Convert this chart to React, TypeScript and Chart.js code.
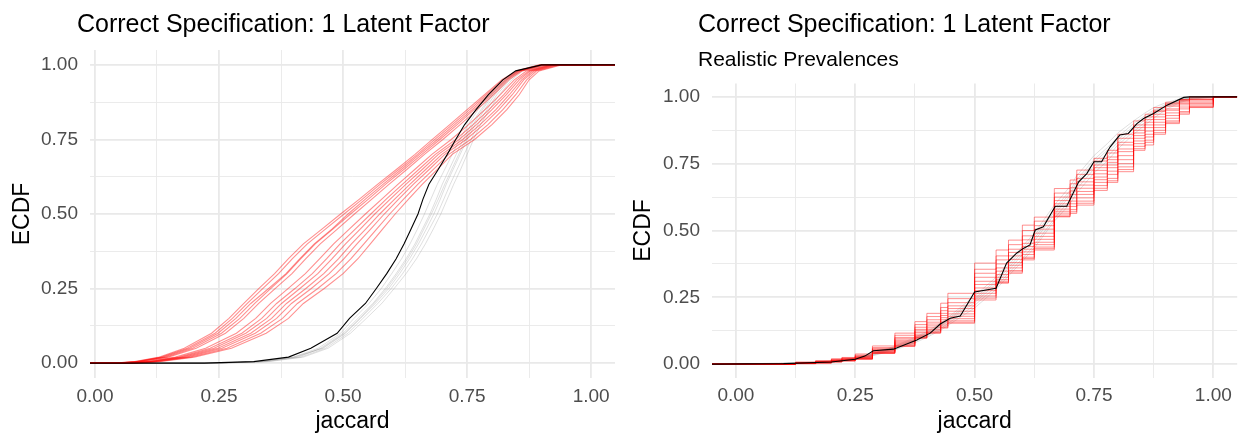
import React, { useEffect, useRef } from 'react';
import { Chart, registerables } from 'chart.js';

Chart.register(...registerables);

const FONT = '"Liberation Sans", Arial, Helvetica, sans-serif';

// ---------- shared axis data ----------
const majorTicks = [0, 0.25, 0.5, 0.75, 1];
const minorTicks = [0.125, 0.375, 0.625, 0.875];
const tickLabels = ['0.00', '0.25', '0.50', '0.75', '1.00'];
const yRange = [-0.05, 1.05];
const xTitle = 'jaccard';
const yTitle = 'ECDF';

// ---------- left panel ----------
const leftTitle = 'Correct Specification: 1 Latent Factor';
const leftXRange = [-0.01, 1.048];
// ECDF levels at which each left-panel curve's jaccard quantile is read
const ecdfLevels = [0, 0.005, 0.02, 0.05, 0.1, 0.15, 0.2, 0.25, 0.3, 0.35, 0.4, 0.45, 0.5, 0.55, 0.6, 0.65, 0.7, 0.75, 0.8, 0.85, 0.9, 0.95, 0.98, 1];

const leftBlack = [0.22, 0.32, 0.39, 0.435, 0.488, 0.513, 0.545, 0.567, 0.588, 0.607, 0.623, 0.637, 0.651, 0.661, 0.673, 0.692, 0.71, 0.727, 0.745, 0.768, 0.793, 0.822, 0.848, 0.9];

const leftGray1 = [0.24, 0.33, 0.4, 0.45, 0.495, 0.522, 0.552, 0.577, 0.598, 0.618, 0.635, 0.65, 0.664, 0.677, 0.69, 0.705, 0.72, 0.735, 0.752, 0.772, 0.797, 0.826, 0.85, 0.9];
const leftGray2 = [0.25, 0.34, 0.41, 0.455, 0.5, 0.53, 0.56, 0.585, 0.607, 0.627, 0.645, 0.66, 0.675, 0.688, 0.7, 0.714, 0.728, 0.742, 0.758, 0.778, 0.8, 0.828, 0.852, 0.91];
const leftGray3 = [0.23, 0.335, 0.4, 0.46, 0.505, 0.535, 0.565, 0.592, 0.614, 0.634, 0.652, 0.668, 0.683, 0.696, 0.708, 0.722, 0.736, 0.75, 0.766, 0.785, 0.806, 0.832, 0.855, 0.9];
const leftGray4 = [0.26, 0.345, 0.415, 0.465, 0.51, 0.54, 0.57, 0.597, 0.62, 0.64, 0.658, 0.674, 0.69, 0.703, 0.716, 0.73, 0.744, 0.758, 0.772, 0.79, 0.81, 0.836, 0.858, 0.91];
const leftGray5 = [0.25, 0.35, 0.42, 0.47, 0.515, 0.547, 0.578, 0.603, 0.627, 0.648, 0.666, 0.682, 0.697, 0.71, 0.723, 0.737, 0.75, 0.763, 0.777, 0.795, 0.815, 0.84, 0.862, 0.92];
const leftGray6 = [0.24, 0.33, 0.405, 0.458, 0.503, 0.534, 0.562, 0.588, 0.61, 0.63, 0.648, 0.663, 0.678, 0.692, 0.705, 0.719, 0.733, 0.747, 0.762, 0.781, 0.802, 0.83, 0.853, 0.905];

const leftRed1 = [0.04, 0.08, 0.13, 0.18, 0.235, 0.27, 0.3, 0.33, 0.362, 0.39, 0.42, 0.458, 0.495, 0.533, 0.57, 0.608, 0.645, 0.68, 0.715, 0.75, 0.785, 0.82, 0.85, 0.895];
const leftRed2 = [0.042, 0.083, 0.134, 0.186, 0.242, 0.277, 0.307, 0.338, 0.37, 0.398, 0.428, 0.465, 0.502, 0.539, 0.575, 0.613, 0.65, 0.685, 0.72, 0.755, 0.789, 0.823, 0.853, 0.898];
const leftRed3 = [0.045, 0.086, 0.138, 0.191, 0.248, 0.284, 0.314, 0.35, 0.385, 0.413, 0.442, 0.478, 0.51, 0.545, 0.581, 0.618, 0.654, 0.69, 0.725, 0.76, 0.793, 0.827, 0.855, 0.9];
const leftRed4 = [0.047, 0.089, 0.143, 0.197, 0.255, 0.292, 0.322, 0.354, 0.387, 0.415, 0.444, 0.48, 0.515, 0.551, 0.586, 0.623, 0.659, 0.695, 0.73, 0.764, 0.798, 0.83, 0.858, 0.903];
const leftRed5 = [0.05, 0.093, 0.148, 0.204, 0.263, 0.3, 0.33, 0.363, 0.397, 0.425, 0.454, 0.489, 0.523, 0.558, 0.593, 0.629, 0.664, 0.701, 0.736, 0.77, 0.803, 0.834, 0.861, 0.906];
const leftRed6 = [0.058, 0.103, 0.162, 0.223, 0.285, 0.324, 0.354, 0.389, 0.424, 0.453, 0.481, 0.513, 0.545, 0.578, 0.611, 0.645, 0.679, 0.718, 0.753, 0.786, 0.817, 0.845, 0.87, 0.915];
const leftRed7 = [0.062, 0.108, 0.169, 0.232, 0.296, 0.336, 0.366, 0.403, 0.438, 0.467, 0.494, 0.525, 0.556, 0.587, 0.62, 0.653, 0.686, 0.727, 0.762, 0.794, 0.824, 0.85, 0.875, 0.92];
const leftRed8 = [0.065, 0.112, 0.174, 0.24, 0.304, 0.346, 0.376, 0.413, 0.449, 0.478, 0.505, 0.535, 0.564, 0.595, 0.627, 0.66, 0.692, 0.734, 0.769, 0.8, 0.829, 0.855, 0.878, 0.923];
const leftRed9 = [0.069, 0.116, 0.18, 0.248, 0.314, 0.356, 0.386, 0.425, 0.461, 0.491, 0.517, 0.546, 0.574, 0.604, 0.635, 0.667, 0.699, 0.741, 0.776, 0.808, 0.835, 0.86, 0.882, 0.927];
const leftRed10 = [0.072, 0.12, 0.186, 0.256, 0.323, 0.366, 0.396, 0.436, 0.472, 0.502, 0.528, 0.556, 0.583, 0.612, 0.642, 0.674, 0.705, 0.748, 0.783, 0.814, 0.841, 0.864, 0.886, 0.931];
const leftRed11 = [0.076, 0.125, 0.193, 0.266, 0.334, 0.378, 0.408, 0.449, 0.486, 0.516, 0.542, 0.568, 0.594, 0.622, 0.651, 0.682, 0.713, 0.757, 0.792, 0.822, 0.848, 0.87, 0.89, 0.936];
const leftRed12 = [0.08, 0.13, 0.2, 0.275, 0.345, 0.39, 0.42, 0.462, 0.5, 0.53, 0.555, 0.58, 0.605, 0.632, 0.66, 0.69, 0.72, 0.765, 0.8, 0.83, 0.855, 0.875, 0.895, 0.94];

const leftGray = [leftGray1, leftGray2, leftGray3, leftGray4, leftGray5, leftGray6];
const leftRed = [leftRed1, leftRed2, leftRed3, leftRed4, leftRed5, leftRed6, leftRed7, leftRed8, leftRed9, leftRed10, leftRed11, leftRed12];

// ---------- right panel ----------
const rightTitle = 'Correct Specification: 1 Latent Factor';
const rightSubtitle = 'Realistic Prevalences';
const rightXRange = [-0.05, 1.05];
// discrete jaccard values where the right-panel ECDFs jump
const rightJaccard = [0.125, 0.167, 0.2, 0.222, 0.25, 0.286, 0.333, 0.375, 0.4, 0.429, 0.444, 0.5, 0.545, 0.571, 0.6, 0.625, 0.667, 0.7, 0.714, 0.75, 0.778, 0.8, 0.833, 0.857, 0.875, 0.9, 0.929, 0.95, 1.0];

const rightBlackX = [0.1, 0.2, 0.25, 0.27, 0.288, 0.33, 0.379, 0.407, 0.428, 0.449, 0.47, 0.5, 0.545, 0.567, 0.588, 0.602, 0.616, 0.627, 0.644, 0.669, 0.693, 0.718, 0.735, 0.75, 0.766, 0.784, 0.804, 0.822, 0.84, 0.854, 0.875, 0.903, 0.938, 0.95];
const rightBlackY = [0.002, 0.008, 0.018, 0.03, 0.05, 0.056, 0.09, 0.116, 0.15, 0.172, 0.18, 0.27, 0.284, 0.378, 0.415, 0.433, 0.446, 0.502, 0.514, 0.591, 0.591, 0.682, 0.713, 0.757, 0.757, 0.813, 0.857, 0.863, 0.9, 0.919, 0.938, 0.969, 0.998, 1.0];

const rightGray1 = [0.003, 0.006, 0.01, 0.014, 0.02, 0.035, 0.06, 0.09, 0.11, 0.14, 0.16, 0.23, 0.3, 0.35, 0.41, 0.46, 0.56, 0.63, 0.67, 0.74, 0.79, 0.83, 0.88, 0.915, 0.94, 0.965, 0.985, 0.995, 1.0];
const rightGray2 = [0.004, 0.007, 0.011, 0.015, 0.022, 0.038, 0.065, 0.095, 0.118, 0.148, 0.168, 0.245, 0.315, 0.37, 0.43, 0.48, 0.58, 0.65, 0.69, 0.765, 0.81, 0.85, 0.9, 0.93, 0.95, 0.972, 0.99, 0.997, 1.0];
const rightGray3 = [0.003, 0.005, 0.009, 0.013, 0.019, 0.033, 0.056, 0.085, 0.105, 0.133, 0.152, 0.22, 0.29, 0.34, 0.395, 0.445, 0.545, 0.615, 0.655, 0.73, 0.775, 0.82, 0.87, 0.905, 0.93, 0.96, 0.982, 0.994, 1.0];
const rightGray4 = [0.004, 0.008, 0.012, 0.016, 0.023, 0.04, 0.068, 0.1, 0.122, 0.153, 0.174, 0.255, 0.325, 0.38, 0.44, 0.49, 0.595, 0.665, 0.705, 0.78, 0.825, 0.865, 0.91, 0.94, 0.96, 0.978, 0.992, 0.998, 1.0];
const rightGray5 = [0.002, 0.005, 0.008, 0.012, 0.018, 0.031, 0.053, 0.08, 0.1, 0.127, 0.145, 0.21, 0.28, 0.33, 0.385, 0.435, 0.535, 0.6, 0.64, 0.715, 0.76, 0.805, 0.86, 0.895, 0.92, 0.952, 0.978, 0.99, 1.0];
const rightGray6 = [0.003, 0.006, 0.01, 0.014, 0.021, 0.036, 0.062, 0.092, 0.114, 0.144, 0.164, 0.238, 0.308, 0.36, 0.42, 0.47, 0.57, 0.64, 0.68, 0.755, 0.8, 0.84, 0.89, 0.922, 0.945, 0.968, 0.988, 0.996, 1.0];

const rightRed1 = [0.008, 0.013, 0.02, 0.025, 0.038, 0.068, 0.116, 0.159, 0.19, 0.228, 0.265, 0.378, 0.427, 0.464, 0.52, 0.55, 0.657, 0.689, 0.726, 0.77, 0.8, 0.86, 0.91, 0.935, 0.96, 0.98, 0.99, 1.0, 1.0];
const rightRed2 = [0.006, 0.011, 0.018, 0.023, 0.034, 0.062, 0.108, 0.148, 0.178, 0.212, 0.245, 0.355, 0.405, 0.447, 0.5, 0.535, 0.64, 0.675, 0.71, 0.76, 0.79, 0.845, 0.895, 0.925, 0.95, 0.975, 0.99, 1.0, 1.0];
const rightRed3 = [0.005, 0.01, 0.016, 0.021, 0.031, 0.058, 0.1, 0.138, 0.166, 0.2, 0.23, 0.34, 0.39, 0.43, 0.48, 0.518, 0.625, 0.66, 0.695, 0.745, 0.775, 0.83, 0.885, 0.915, 0.945, 0.97, 0.985, 0.995, 1.0];
const rightRed4 = [0.005, 0.009, 0.015, 0.02, 0.029, 0.055, 0.095, 0.13, 0.157, 0.19, 0.218, 0.325, 0.375, 0.418, 0.465, 0.505, 0.612, 0.648, 0.682, 0.735, 0.765, 0.82, 0.875, 0.905, 0.935, 0.965, 0.985, 0.99, 1.0];
const rightRed5 = [0.004, 0.008, 0.014, 0.018, 0.027, 0.052, 0.09, 0.124, 0.15, 0.182, 0.208, 0.31, 0.36, 0.405, 0.452, 0.49, 0.6, 0.635, 0.67, 0.725, 0.755, 0.805, 0.865, 0.895, 0.925, 0.955, 0.98, 0.99, 1.0];
const rightRed6 = [0.004, 0.008, 0.013, 0.017, 0.025, 0.05, 0.086, 0.118, 0.143, 0.174, 0.198, 0.298, 0.348, 0.392, 0.44, 0.478, 0.59, 0.622, 0.658, 0.712, 0.745, 0.795, 0.855, 0.885, 0.915, 0.95, 0.975, 0.985, 1.0];
const rightRed7 = [0.003, 0.007, 0.012, 0.016, 0.024, 0.047, 0.082, 0.112, 0.136, 0.166, 0.188, 0.285, 0.335, 0.38, 0.43, 0.467, 0.58, 0.61, 0.646, 0.7, 0.735, 0.78, 0.845, 0.872, 0.905, 0.94, 0.97, 0.98, 1.0];
const rightRed8 = [0.003, 0.006, 0.011, 0.015, 0.022, 0.045, 0.078, 0.107, 0.13, 0.158, 0.179, 0.275, 0.325, 0.37, 0.42, 0.456, 0.572, 0.6, 0.635, 0.69, 0.722, 0.765, 0.835, 0.86, 0.895, 0.93, 0.962, 0.975, 1.0];
const rightRed9 = [0.003, 0.006, 0.01, 0.014, 0.021, 0.043, 0.074, 0.103, 0.124, 0.15, 0.17, 0.265, 0.316, 0.36, 0.41, 0.447, 0.565, 0.59, 0.622, 0.68, 0.71, 0.75, 0.825, 0.85, 0.885, 0.92, 0.955, 0.97, 1.0];
const rightRed10 = [0.002, 0.005, 0.009, 0.013, 0.02, 0.042, 0.07, 0.1, 0.12, 0.143, 0.162, 0.255, 0.31, 0.35, 0.4, 0.438, 0.558, 0.578, 0.61, 0.668, 0.695, 0.738, 0.815, 0.838, 0.875, 0.91, 0.945, 0.965, 1.0];
const rightRed11 = [0.002, 0.004, 0.008, 0.012, 0.019, 0.041, 0.068, 0.098, 0.117, 0.138, 0.157, 0.247, 0.305, 0.345, 0.395, 0.432, 0.553, 0.57, 0.602, 0.658, 0.686, 0.728, 0.806, 0.83, 0.866, 0.905, 0.94, 0.962, 1.0];
const rightRed12 = [0.002, 0.004, 0.008, 0.012, 0.018, 0.04, 0.066, 0.097, 0.116, 0.135, 0.153, 0.24, 0.303, 0.34, 0.39, 0.427, 0.551, 0.564, 0.595, 0.65, 0.68, 0.72, 0.8, 0.82, 0.86, 0.9, 0.935, 0.96, 1.0];

const rightGray = [rightGray1, rightGray2, rightGray3, rightGray4, rightGray5, rightGray6];
const rightRed = [rightRed1, rightRed2, rightRed3, rightRed4, rightRed5, rightRed6, rightRed7, rightRed8, rightRed9, rightRed10, rightRed11, rightRed12];

// ---------- styles ----------
const RED = 'rgba(255,0,0,0.44)';
const GRAY = 'rgba(150,150,150,0.3)';
const BLACK = '#000000';
const GRID = '#e9e9e9';
const TICK_COLOR = '#4d4d4d';

type Pt = { x: number; y: number };

function fromQuantiles(q: number[], xr: number[]): Pt[] {
  const pts: Pt[] = [{ x: xr[0], y: 0 }];
  q.forEach((x, i) => pts.push({ x, y: ecdfLevels[i] }));
  pts.push({ x: xr[1], y: 1 });
  return pts;
}

function fromPairs(xs: number[], ys: number[], xr: number[]): Pt[] {
  const pts: Pt[] = [{ x: xr[0], y: 0 }];
  const n = Math.min(xs.length, ys.length);
  for (let i = 0; i < n; i++) pts.push({ x: xs[i], y: ys[i] });
  pts.push({ x: xr[1], y: 1 });
  return pts;
}

function ds(data: Pt[], color: string, width: number, order: number, stepped: boolean) {
  return {
    data,
    borderColor: color,
    backgroundColor: color,
    borderWidth: width,
    pointRadius: 0,
    pointHoverRadius: 0,
    fill: false,
    tension: 0,
    stepped: stepped ? ('before' as const) : false,
    order,
  };
}

const allTicks = [...majorTicks, ...minorTicks].sort((a, b) => a - b);

function tickLabel(v: number) {
  const i = majorTicks.findIndex((m) => Math.abs(m - v) < 1e-9);
  return i >= 0 ? tickLabels[i] : '';
}

function gridWidth(ctx: any) {
  const v = ctx.tick ? ctx.tick.value : 0;
  return majorTicks.some((m) => Math.abs(m - v) < 1e-9) ? 1.8 : 0.9;
}

function makeScales(xr: number[], yAxisWidth: number, xAxisHeight: number, xTickPad: number, yTitlePad: number) {
  return {
    x: {
      type: 'linear' as const,
      min: xr[0],
      max: xr[1],
      afterBuildTicks: (s: any) => {
        s.ticks = allTicks.map((v) => ({ value: v }));
      },
      afterFit: (s: any) => {
        s.height = xAxisHeight;
      },
      ticks: {
        autoSkip: false,
        maxRotation: 0,
        padding: xTickPad,
        color: TICK_COLOR,
        font: { size: 19, family: FONT },
        callback: (v: any) => tickLabel(Number(v)),
      },
      grid: { color: GRID, lineWidth: gridWidth, drawTicks: false },
      border: { display: false },
      title: {
        display: true,
        text: xTitle,
        color: '#000',
        font: { size: 23, family: FONT },
        padding: { top: 0, bottom: 0 },
      },
    },
    y: {
      type: 'linear' as const,
      min: yRange[0],
      max: yRange[1],
      afterBuildTicks: (s: any) => {
        s.ticks = allTicks.map((v) => ({ value: v }));
      },
      afterFit: (s: any) => {
        s.width = yAxisWidth;
      },
      ticks: {
        autoSkip: false,
        padding: 12,
        color: TICK_COLOR,
        font: { size: 19, family: FONT },
        callback: (v: any) => tickLabel(Number(v)),
      },
      grid: { color: GRID, lineWidth: gridWidth, drawTicks: false },
      border: { display: false },
      title: {
        display: true,
        text: yTitle,
        color: '#000',
        font: { size: 23, family: FONT },
        padding: { top: yTitlePad, bottom: 0 },
      },
    },
  };
}

const panelTitles = {
  id: 'panelTitles',
  afterDraw(chart: any, _args: any, opts: any) {
    const ctx = chart.ctx;
    ctx.save();
    ctx.fillStyle = '#000';
    ctx.textAlign = 'left';
    ctx.textBaseline = 'alphabetic';
    if (opts.title) {
      ctx.font = `25px ${FONT}`;
      ctx.fillText(opts.title, opts.titleX, opts.titleY);
    }
    if (opts.subtitle) {
      ctx.font = `21px ${FONT}`;
      ctx.fillText(opts.subtitle, opts.subX, opts.subY);
    }
    ctx.restore();
  },
};

function baseOptions(padding: any, scales: any, titles: any) {
  return {
    responsive: false,
    animation: false as const,
    events: [] as any[],
    devicePixelRatio: 1,
    layout: { padding },
    scales,
    plugins: {
      legend: { display: false },
      tooltip: { enabled: false },
      title: { display: false },
      panelTitles: titles,
    },
  };
}

function leftConfig(): any {
  const datasets: any[] = [];
  datasets.push(ds(fromQuantiles(leftBlack, leftXRange), BLACK, 1.1, 0, false));
  leftRed.forEach((q) => datasets.push(ds(fromQuantiles(q, leftXRange), RED, 1.1, 1, false)));
  leftGray.forEach((q) => datasets.push(ds(fromQuantiles(q, leftXRange), GRAY, 1, 2, false)));
  return {
    type: 'line',
    data: { datasets },
    options: baseOptions(
      { left: 0, right: 5, top: 50, bottom: 0 },
      makeScales(leftXRange, 90, 57, 7.5, 8.7),
      { title: leftTitle, titleX: 77, titleY: 32 }
    ),
    plugins: [panelTitles],
  };
}

function rightConfig(): any {
  const datasets: any[] = [];
  datasets.push(ds(fromPairs(rightBlackX, rightBlackY, rightXRange), BLACK, 1.1, 0, false));
  rightRed.forEach((y) => datasets.push(ds(fromPairs(rightJaccard, y, rightXRange), RED, 1, 1, true)));
  rightGray.forEach((y) => datasets.push(ds(fromPairs(rightJaccard, y, rightXRange), GRAY, 1, 2, false)));
  return {
    type: 'line',
    data: { datasets },
    options: baseOptions(
      { left: 0, right: 1.8, top: 83.5, bottom: 0 },
      makeScales(rightXRange, 92, 57.5, 7, 10.2),
      { title: rightTitle, titleX: 78, titleY: 32, subtitle: rightSubtitle, subX: 78, subY: 66 }
    ),
    plugins: [panelTitles],
  };
}

export default function App() {
  const leftRef = useRef<HTMLCanvasElement>(null);
  const rightRef = useRef<HTMLCanvasElement>(null);

  useEffect(() => {
    const c1 = new Chart(leftRef.current as HTMLCanvasElement, leftConfig());
    const c2 = new Chart(rightRef.current as HTMLCanvasElement, rightConfig());
    return () => {
      c1.destroy();
      c2.destroy();
    };
  }, []);

  return (
    <div style={{ position: 'absolute', left: 0, top: 0, width: 1239, height: 435, background: '#ffffff', overflow: 'hidden' }}>
      <canvas ref={leftRef} width={620} height={435} style={{ position: 'absolute', left: 0, top: 0, width: 620, height: 435 }} />
      <canvas ref={rightRef} width={619} height={435} style={{ position: 'absolute', left: 620, top: 0, width: 619, height: 435 }} />
    </div>
  );
}
